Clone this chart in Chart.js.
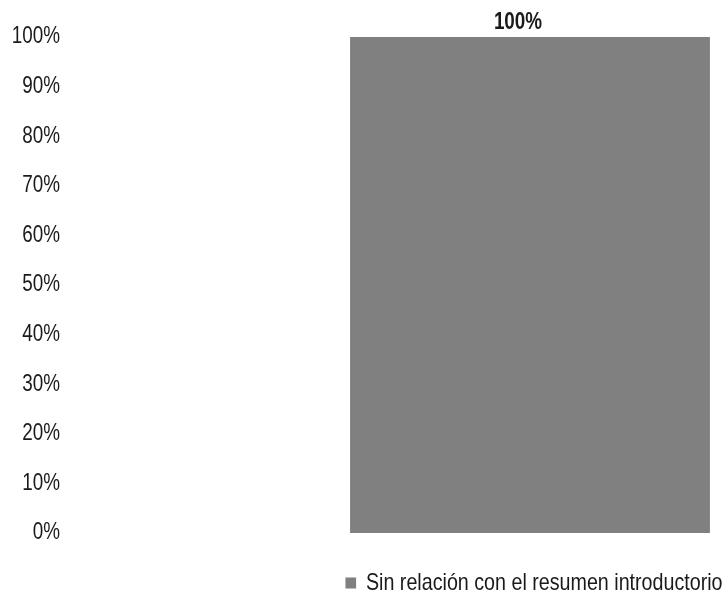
<!DOCTYPE html>
<html>
<head>
<meta charset="utf-8">
<script src="https://cdn.jsdelivr.net/npm/chart.js@4"></script>
<style>
  html, body { margin: 0; padding: 0; background: #fff; }
  #wrap { width: 726px; height: 597px; }
</style>
</head>
<body>
<div id="wrap"><canvas id="chart"></canvas></div>
<script>
    // Data
    const categories = [''];
    const seriesName = 'Sin relación con el resumen introductorio';
    const seriesValues = [100];
    const yTicks = [0, 10, 20, 30, 40, 50, 60, 70, 80, 90, 100];

    const fontFamily = '"Liberation Sans", Arial, sans-serif';
    const narrow = 0.82; // reference uses a narrow face, squeeze text horizontally

    // run fn with the context squeezed horizontally, x = from lands on x = to
    function condensed(ctx, from, to, fn) {
        ctx.save();
        ctx.translate(to, 0);
        ctx.scale(narrow, 1);
        ctx.translate(-from, 0);
        fn();
        ctx.restore();
    }

    // narrow legend + value labels above the bars
    const valueLabels = {
        id: 'valueLabels',
        afterLayout(chart) {
            const lg = chart.legend;
            if (lg && !lg._narrow) {
                const orig = lg.draw;
                lg.draw = function () {
                    const from = (this.left + this.right) / 2;
                    const to = (chart.chartArea.left + chart.chartArea.right) / 2 + 4;
                    condensed(this.ctx, from, to, () => orig.apply(this, arguments));
                };
                lg._narrow = true;
            }
        },
        afterDatasetsDraw(chart) {
            const ctx = chart.ctx;
            const meta = chart.getDatasetMeta(0);
            meta.data.forEach((bar, i) => {
                const x = bar.x - 12;
                condensed(ctx, x, x, () => {
                    ctx.font = 'bold 23px ' + fontFamily;
                    ctx.fillStyle = '#1a1a1a';
                    ctx.textAlign = 'center';
                    ctx.textBaseline = 'alphabetic';
                    ctx.fillText(seriesValues[i] + '%', x, bar.y - 8);
                });
            });
        }
    };

    new Chart(document.getElementById('chart'), {
        type: 'bar',
        data: {
            labels: categories,
            datasets: [{
                label: seriesName,
                data: seriesValues,
                backgroundColor: '#808080',
                borderWidth: 0,
                categoryPercentage: 1,
                barPercentage: 0.918
            }]
        },
        options: {
            responsive: true,
            maintainAspectRatio: false,
            animation: false,
            layout: { padding: { top: 37, right: 0, left: 0, bottom: -8 } },
            scales: {
                x: { display: false },
                y: {
                    min: 0,
                    max: 100,
                    afterBuildTicks(axis) {
                        axis.ticks = yTicks.map(v => ({ value: v }));
                    },
                    afterFit(axis) {
                        // wide axis so labels sit at far left, bar stays right
                        axis.width = 334;
                        axis.paddingTop = 0;
                        axis.paddingBottom = 0;
                        if (!axis._narrow) {
                            const orig = axis.drawLabels;
                            axis.drawLabels = function (area) {
                                const x = this.right - 274;
                                condensed(this.ctx, x, x, () => orig.call(this, area));
                            };
                            axis._narrow = true;
                        }
                    },
                    grid: { display: false, drawTicks: false },
                    border: { display: false },
                    ticks: {
                        padding: 274,
                        color: '#1a1a1a',
                        font: { family: fontFamily, size: 23 },
                        callback: v => v + '%'
                    }
                }
            },
            plugins: {
                legend: {
                    position: 'bottom',
                    labels: {
                        boxWidth: 13,
                        boxHeight: 11,
                        color: '#1a1a1a',
                        padding: 38,
                        font: { family: fontFamily, size: 24 }
                    }
                },
                tooltip: { enabled: false }
            }
        },
        plugins: [valueLabels]
    });
</script>
</body>
</html>
